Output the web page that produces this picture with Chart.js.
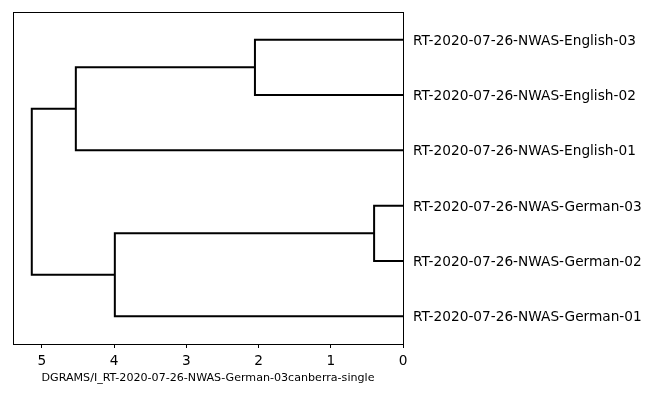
<!DOCTYPE html>
<html>
<head>
<meta charset="utf-8">
<script src="https://cdn.jsdelivr.net/npm/chart.js@4"></script>
<style>
  html, body { margin: 0; padding: 0; background: #fff; }
  #wrap { width: 650px; height: 400px; }
</style>
</head>
<body>
<div id="wrap"><canvas id="dendro"></canvas></div>
<script>
'use strict';

// leaves listed bottom to top, placed at 5, 15, 25 ... like scipy does
var leafLabels = [
  'RT-2020-07-26-NWAS-German-01',
  'RT-2020-07-26-NWAS-German-02',
  'RT-2020-07-26-NWAS-German-03',
  'RT-2020-07-26-NWAS-English-01',
  'RT-2020-07-26-NWAS-English-02',
  'RT-2020-07-26-NWAS-English-03'
];
var leafPos = [5, 15, 25, 35, 45, 55];

// link coordinates (distance, leaf position), scipy dcoord / icoord style
var dcoord = [
  [0, 2.05, 2.05, 0],
  [0, 0.40, 0.40, 0],
  [0, 4.53, 4.53, 2.05],
  [0, 3.99, 3.99, 0.40],
  [3.99, 5.14, 5.14, 4.53]
];
var icoord = [
  [45, 45, 55, 55],
  [15, 15, 25, 25],
  [35, 35, 50, 50],
  [5, 5, 20, 20],
  [12.5, 12.5, 42.5, 42.5]
];
var xTicks = [0, 1, 2, 3, 4, 5];
var xMax = 5.40;
var xTitle = 'DGRAMS/I_RT-2020-07-26-NWAS-German-03canberra-single';

(function () {
  var fontFamily = "'DejaVu Sans', sans-serif";

  var datasets = dcoord.map(function (d, i) {
    return {
      data: d.map(function (x, j) { return { x: x, y: icoord[i][j] }; }),
      showLine: true,
      borderColor: '#000',
      borderWidth: 2,
      pointRadius: 0,
      fill: false,
      tension: 0
    };
  });

  var frame = {
    id: 'frame',
    afterDraw: function (chart) {
      var a = chart.chartArea;
      var ctx = chart.ctx;
      ctx.save();
      ctx.strokeStyle = '#000';
      ctx.lineWidth = 1;
      ctx.strokeRect(Math.round(a.left) + 0.5, Math.round(a.top) + 0.5,
        Math.round(a.right - a.left), Math.round(a.bottom - a.top));
      ctx.restore();
    }
  };

  new Chart(document.getElementById('dendro'), {
    type: 'scatter',
    data: { datasets: datasets },
    options: {
      responsive: true,
      maintainAspectRatio: false,
      animation: false,
      layout: { padding: { left: 13, top: 12, right: 0, bottom: 15 } },
      plugins: {
        legend: { display: false },
        tooltip: { enabled: false }
      },
      scales: {
        x: {
          type: 'linear',
          reverse: true,
          min: 0,
          max: xMax,
          afterBuildTicks: function (axis) {
            axis.ticks = xTicks.map(function (v) { return { value: v }; });
          },
          afterFit: function (axis) {
            axis.height = 41;
            axis.paddingLeft = 0;
            axis.paddingRight = 0;
          },
          grid: { drawOnChartArea: false, drawTicks: true, tickLength: 4, color: '#000' },
          border: { display: false },
          ticks: { color: '#000', padding: 5, font: { family: fontFamily, size: 13.7 } },
          title: {
            display: true,
            text: xTitle,
            color: '#000',
            padding: { top: 2, bottom: 0 },
            font: { family: fontFamily, size: 11.1 }
          }
        },
        y: {
          type: 'linear',
          position: 'right',
          min: 0,
          max: 60,
          afterBuildTicks: function (axis) {
            axis.ticks = leafPos.map(function (v) { return { value: v }; });
          },
          afterFit: function (axis) {
            axis.width = 247;
            axis.paddingTop = 0;
            axis.paddingBottom = 0;
          },
          grid: { display: false, drawTicks: false, tickLength: 0 },
          border: { display: false },
          ticks: {
            color: '#000',
            padding: 10,
            labelOffset: 1.5,
            font: { family: fontFamily, size: 13.7 },
            callback: function (value) {
              var i = leafPos.indexOf(value);
              return i >= 0 ? leafLabels[i] : '';
            }
          }
        }
      }
    },
    plugins: [frame]
  });
})();
</script>
</body>
</html>
